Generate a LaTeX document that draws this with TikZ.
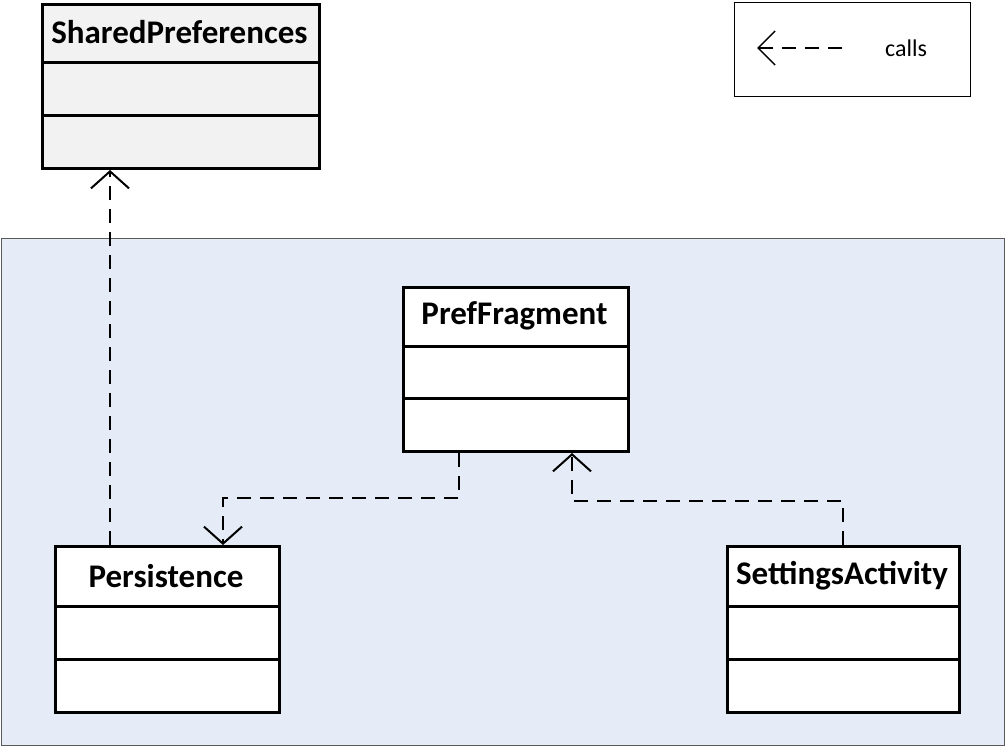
\documentclass[tikz,border=0pt]{standalone}
\usepackage{fontspec}
\setmainfont{Carlito}
\usetikzlibrary{arrows.meta}
\definecolor{pkgblue}{HTML}{E6ECF7}
\definecolor{pkgborder}{HTML}{5A5A5A}
\definecolor{spgray}{HTML}{F2F2F2}
\tikzset{
  classbox/.style={draw=black, line width=3pt, fill=white, rectangle, inner sep=0pt, anchor=north west},
  classname/.style={font=\fontsize{33}{36}\selectfont\bfseries, inner sep=0pt},
  divider/.style={draw=black, line width=3pt},
  calls/.style={draw=black, line width=2pt, dash pattern=on 14pt off 9pt,
    -{Straight Barb[length=17pt,width=38pt,line width=2pt]}},
}
\begin{document}
\begin{tikzpicture}[x=1pt,y=-1pt]
\useasboundingbox (0,0) rectangle (1006,747);
% package background
\node[draw=pkgborder, line width=1pt, fill=pkgblue, rectangle, inner sep=0pt, anchor=north west,
  minimum width=1003pt, minimum height=507pt] (pkg) at (1,238) {};
% legend
\node[draw=black, line width=1.3pt, fill=white, rectangle, inner sep=0pt, anchor=north west,
  minimum width=236pt, minimum height=94pt] (legend) at (734,2) {};
\coordinate (lstart) at (842,48);
\coordinate (lend) at (757,48);
\draw[calls, line width=1.5pt, dash pattern=on 14pt off 9pt,
  -{Straight Barb[length=17pt,width=34pt,line width=1.5pt]}] (lstart) -- (lend);
\node[font=\fontsize{24}{26}\selectfont, inner sep=0pt] (callstxt) at (906,48) {calls};
% SharedPreferences
\node[classbox, fill=spgray, minimum width=277pt, minimum height=164pt] (sp) at (41,3) {};
\node[classname] (spname) at (179.5,32) {SharedPreferences};
\draw[divider] (41,62) -- (318,62);
\draw[divider] (41,115) -- (318,115);
% PrefFragment
\node[classbox, minimum width=225pt, minimum height=164pt] (pf) at (402,286) {};
\node[classname] (pfname) at (514.5,316) {PrefFragment};
\draw[divider] (402,346) -- (627,346);
\draw[divider] (402,398) -- (627,398);
% Persistence
\node[classbox, minimum width=224pt, minimum height=166pt] (per) at (54,545) {};
\node[classname] (pername) at (166,576) {Persistence};
\draw[divider] (54,606) -- (278,606);
\draw[divider] (54,659) -- (278,659);
% SettingsActivity
\node[classbox, minimum width=232pt, minimum height=166pt] (sa) at (726,545) {};
\node[classname] (saname) at (842,576) {SettingsActivity};
\draw[divider] (726,606) -- (958,606);
\draw[divider] (726,659) -- (958,659);
% connectors
\draw[calls] ([xshift=56pt]per.north west) -- ([xshift=69pt]sp.south west);
\draw[calls] ([xshift=57pt]pf.south west) -- ++(0,45) -| ([xshift=169pt]per.north west);
\draw[calls] ([xshift=117pt]sa.north west) -- ++(0,-44) -| ([xshift=170pt]pf.south west);
\end{tikzpicture}
\end{document}
